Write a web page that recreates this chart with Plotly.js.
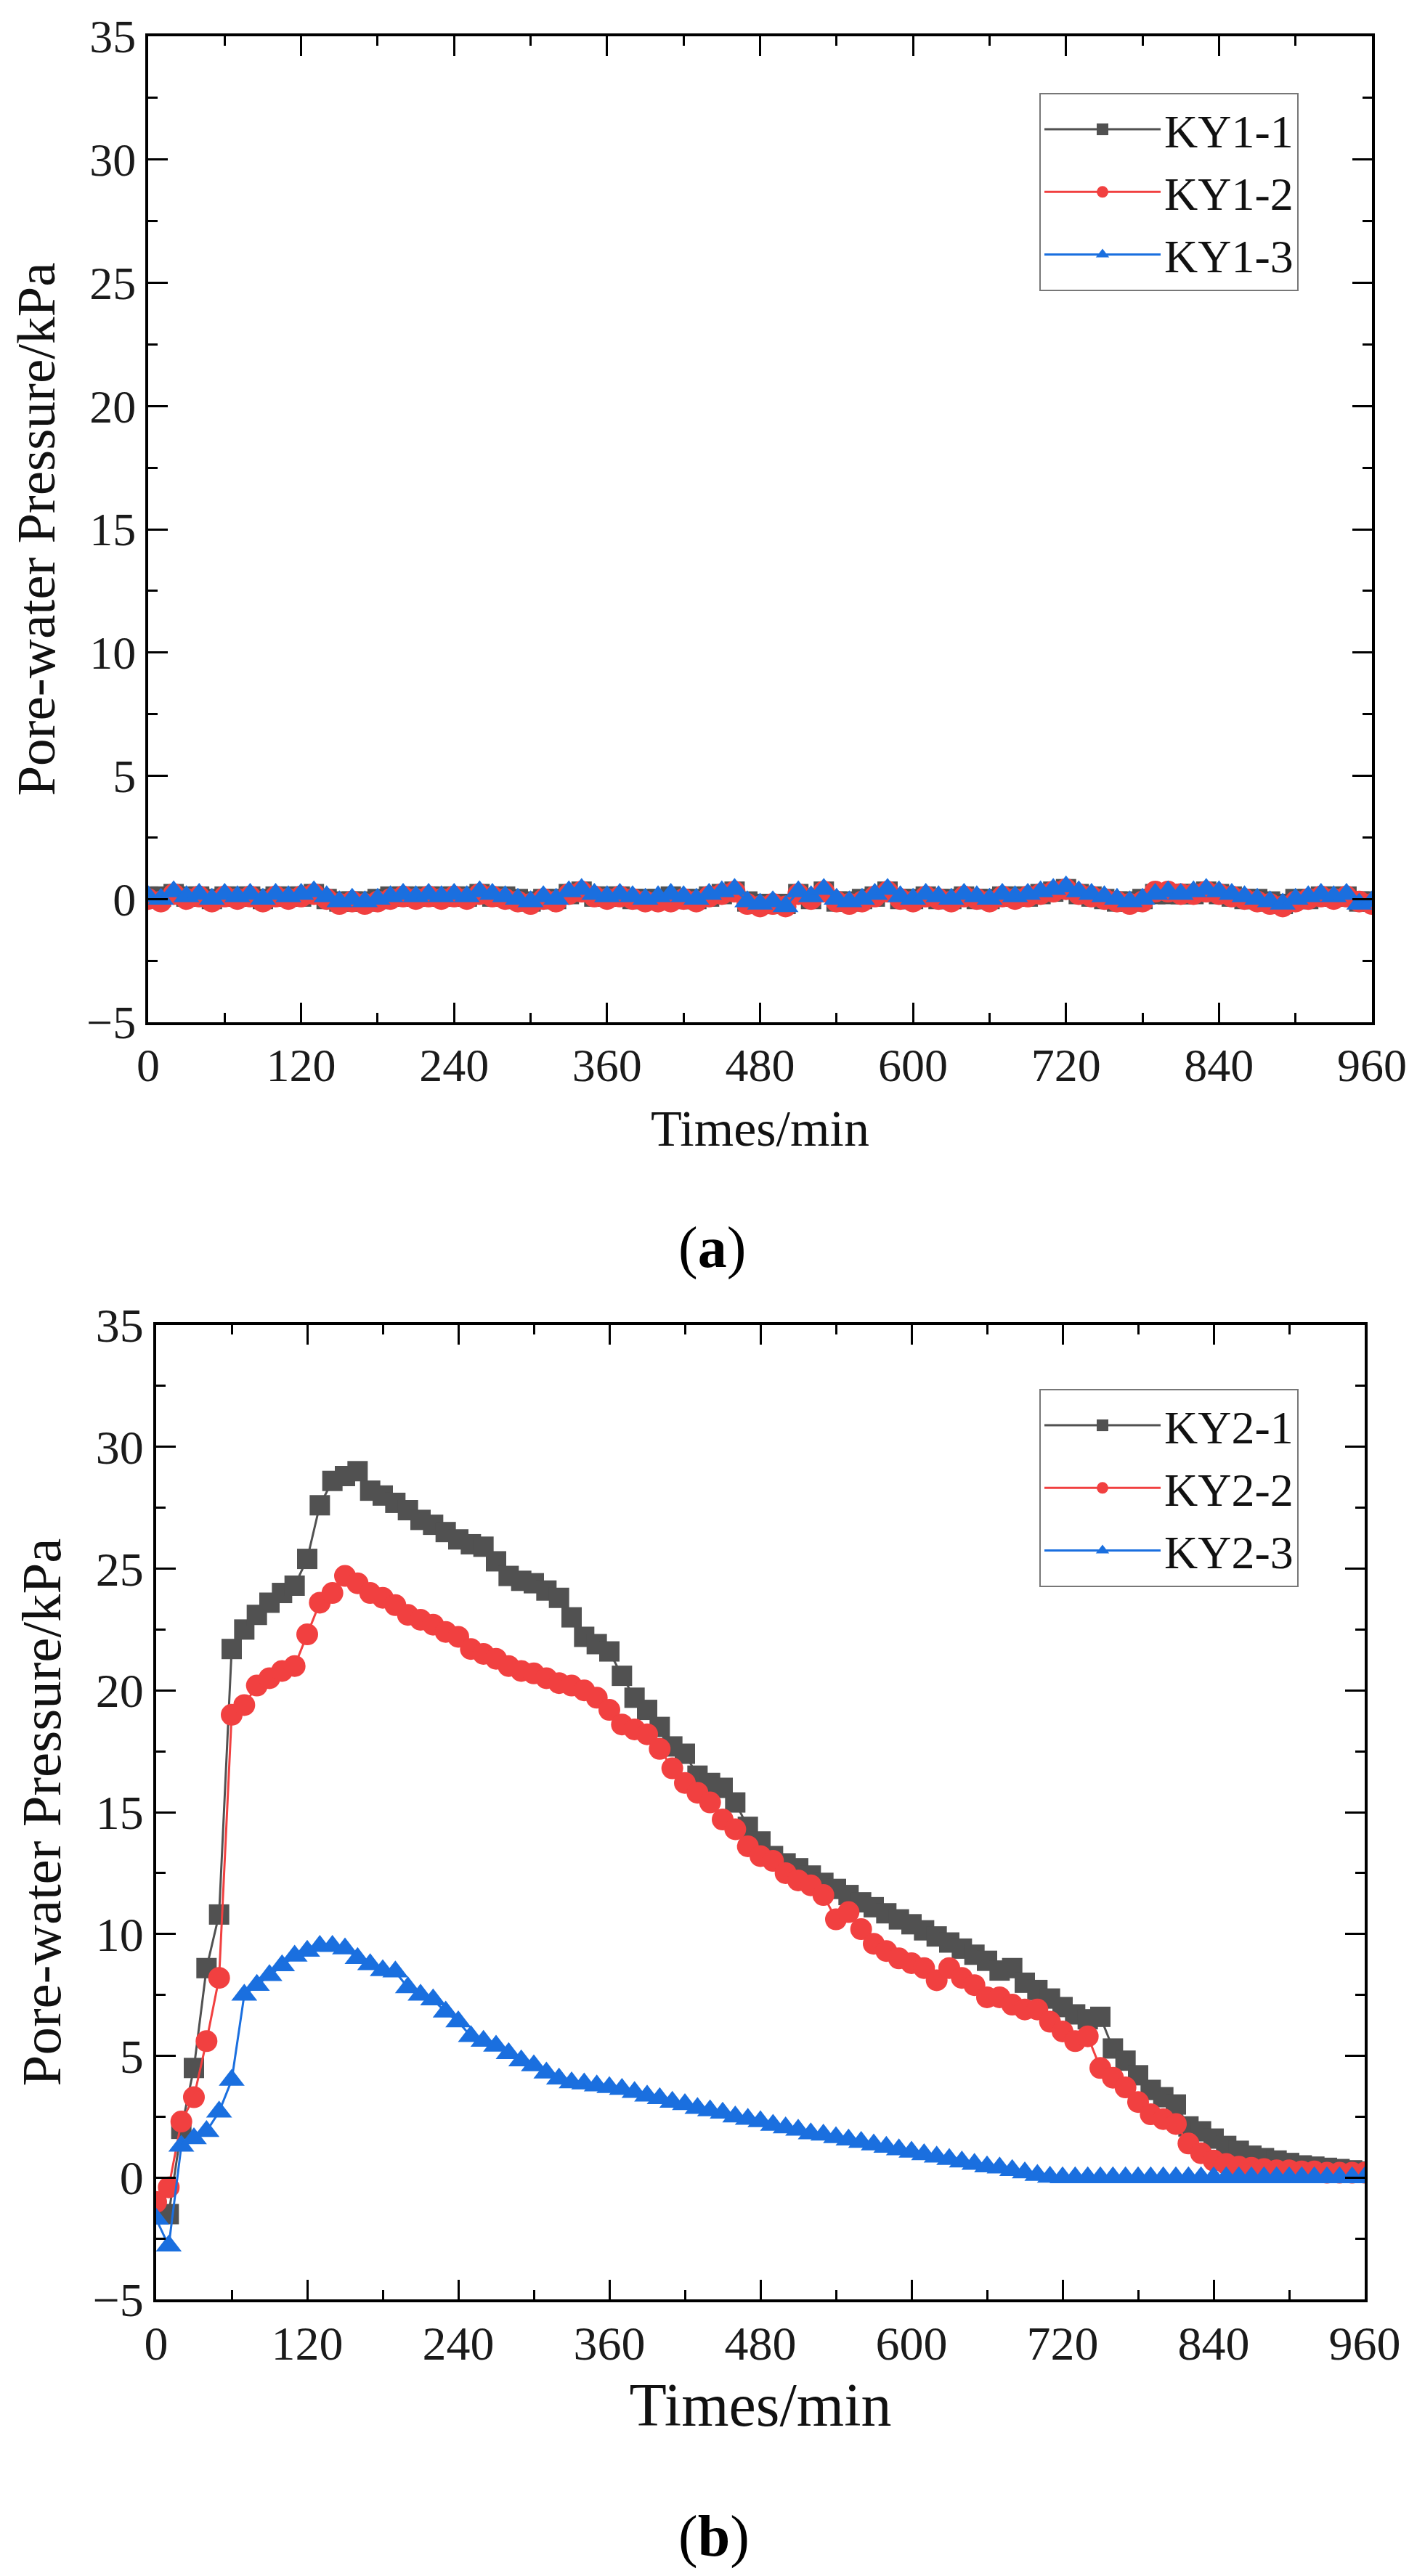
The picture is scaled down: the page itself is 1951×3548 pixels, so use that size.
<!DOCTYPE html>
<html>
<head>
<meta charset="utf-8">
<script src="https://cdn.plot.ly/plotly-3.0.1.min.js"></script>
<style>
  html, body { margin: 0; padding: 0; background: #fff; }
  #plots { width: 1951px; height: 3548px; }
</style>
</head>
<body>
<div id="plots"></div>
<script>
// Pore-water pressure records, two test groups (a) KY1 and (b) KY2
// sampled every 10 min, values read off the original figure

const timeMin = [
  0, 10, 20, 30, 40, 50, 60, 70, 80, 90,
  100, 110, 120, 130, 140, 150, 160, 170, 180, 190,
  200, 210, 220, 230, 240, 250, 260, 270, 280, 290,
  300, 310, 320, 330, 340, 350, 360, 370, 380, 390,
  400, 410, 420, 430, 440, 450, 460, 470, 480, 490,
  500, 510, 520, 530, 540, 550, 560, 570, 580, 590,
  600, 610, 620, 630, 640, 650, 660, 670, 680, 690,
  700, 710, 720, 730, 740, 750, 760, 770, 780, 790,
  800, 810, 820, 830, 840, 850, 860, 870, 880, 890,
  900, 910, 920, 930, 940, 950, 960
];

// --- (a) KY1 ---
const ky1_1 = [
  0.1, 0.1, 0.2, 0.1, 0.1, 0.0, 0.1, 0.1, 0.1, 0.0,
  0.1, 0.1, 0.1, 0.2, 0.0, -0.1, -0.1, -0.1, 0.0, 0.1,
  0.1, 0.1, 0.1, 0.1, 0.1, 0.1, 0.2, 0.1, 0.1, 0.0,
  -0.1, 0.0, 0.0, 0.2, 0.3, 0.1, 0.1, 0.1, 0.0, 0.0,
  0.0, 0.1, 0.0, 0.0, 0.1, 0.2, 0.3, -0.1, -0.2, -0.2,
  -0.2, 0.2, 0.0, 0.3, -0.1, -0.1, 0.0, 0.1, 0.3, 0.0,
  0.0, 0.1, 0.0, 0.0, 0.1, 0.0, 0.0, 0.1, 0.1, 0.1,
  0.2, 0.3, 0.4, 0.2, 0.1, 0.0, -0.1, -0.1, 0.0, 0.2,
  0.2, 0.2, 0.2, 0.3, 0.2, 0.1, 0.0, 0.0, -0.1, -0.2,
  0.0, 0.0, 0.1, 0.1, 0.1, -0.1, -0.1
];
const ky1_2 = [
  0.0, -0.1, 0.2, 0.0, 0.1, -0.1, 0.1, 0.0, 0.1, -0.1,
  0.1, 0.0, 0.1, 0.2, 0.0, -0.2, -0.1, -0.2, -0.1, 0.0,
  0.1, 0.0, 0.1, 0.0, 0.1, 0.0, 0.2, 0.1, 0.0, -0.1,
  -0.2, 0.0, -0.1, 0.2, 0.3, 0.1, 0.0, 0.1, 0.0, -0.1,
  -0.1, -0.1, 0.0, -0.1, 0.1, 0.2, 0.3, -0.2, -0.3, -0.2,
  -0.3, 0.2, 0.0, 0.3, -0.1, -0.2, -0.1, 0.1, 0.3, 0.0,
  -0.1, 0.1, 0.0, -0.1, 0.1, 0.0, -0.1, 0.1, 0.0, 0.1,
  0.2, 0.3, 0.4, 0.2, 0.1, 0.0, -0.1, -0.2, -0.1, 0.3,
  0.3, 0.2, 0.2, 0.3, 0.2, 0.1, 0.0, -0.1, -0.2, -0.3,
  -0.1, 0.0, 0.1, 0.0, 0.1, -0.1, -0.2
];
const ky1_3 = [
  0.1, 0.0, 0.3, 0.1, 0.2, 0.0, 0.2, 0.1, 0.2, 0.0,
  0.2, 0.1, 0.2, 0.3, 0.1, -0.1, 0.0, -0.1, 0.0, 0.1,
  0.2, 0.1, 0.2, 0.1, 0.2, 0.1, 0.3, 0.2, 0.1, 0.0,
  -0.1, 0.1, 0.0, 0.3, 0.4, 0.2, 0.1, 0.2, 0.1, 0.0,
  0.1, 0.2, 0.1, 0.0, 0.2, 0.3, 0.4, -0.1, -0.2, -0.1,
  -0.3, 0.3, 0.1, 0.4, 0.0, -0.1, 0.0, 0.2, 0.4, 0.1,
  0.0, 0.2, 0.1, 0.0, 0.2, 0.1, 0.0, 0.2, 0.1, 0.2,
  0.3, 0.4, 0.5, 0.3, 0.2, 0.1, 0.0, -0.1, 0.0, 0.2,
  0.3, 0.2, 0.3, 0.4, 0.3, 0.2, 0.1, 0.0, -0.1, -0.2,
  0.0, 0.1, 0.2, 0.1, 0.2, -0.2, -0.1
];

// --- (b) KY2 ---
const ky2_1 = [
  -1.0, -1.5, 2.0, 4.5, 8.6, 10.8, 21.7, 22.5, 23.1, 23.6,
  24.0, 24.3, 25.4, 27.6, 28.6, 28.8, 29.0, 28.2, 28.0, 27.7,
  27.4, 27.0, 26.8, 26.5, 26.2, 26.0, 25.9, 25.3, 24.7, 24.5,
  24.4, 24.1, 23.8, 23.0, 22.2, 21.9, 21.6, 20.6, 19.7, 19.2,
  18.5, 17.7, 17.4, 16.5, 16.2, 16.0, 15.4, 14.4, 13.8, 13.2,
  12.9, 12.7, 12.4, 12.1, 11.85, 11.6, 11.3, 11.1, 10.85, 10.6,
  10.4, 10.15, 9.9, 9.65, 9.4, 9.15, 8.9, 8.5, 8.6, 8.0,
  7.7, 7.35, 7.0, 6.7, 6.5, 6.6, 5.3, 4.8, 4.2, 3.6,
  3.3, 3.0, 2.1, 1.9, 1.6, 1.3, 1.1, 0.9, 0.8, 0.7,
  0.6, 0.5, 0.45, 0.4, 0.35, 0.3, 0.25
];
const ky2_2 = [
  -1.0, -0.4, 2.3, 3.3, 5.6, 8.2, 19.0, 19.4, 20.2, 20.5,
  20.8, 21.0, 22.3, 23.6, 24.0, 24.7, 24.4, 24.0, 23.8, 23.5,
  23.1, 22.9, 22.7, 22.4, 22.2, 21.7, 21.5, 21.3, 21.0, 20.8,
  20.7, 20.5, 20.3, 20.2, 20.0, 19.7, 19.2, 18.6, 18.4, 18.2,
  17.6, 16.8, 16.2, 15.8, 15.4, 14.7, 14.3, 13.6, 13.2, 13.0,
  12.5, 12.2, 12.0, 11.6, 10.6, 10.9, 10.2, 9.6, 9.3, 9.0,
  8.8, 8.6, 8.1, 8.6, 8.2, 7.9, 7.4, 7.4, 7.1, 6.9,
  6.9, 6.4, 6.0, 5.6, 5.8, 4.5, 4.1, 3.7, 3.1, 2.6,
  2.4, 2.2, 1.4, 1.0, 0.7, 0.56, 0.45, 0.4, 0.35, 0.3,
  0.3, 0.25, 0.25, 0.2, 0.2, 0.2, 0.2
];
const ky2_3 = [
  -1.7, -2.8, 1.3, 1.6, 1.9, 2.7, 4.0, 7.5, 7.9, 8.3,
  8.7, 9.1, 9.3, 9.5, 9.5, 9.4, 9.0, 8.75, 8.5, 8.45,
  7.8, 7.5, 7.3, 6.8, 6.4, 5.8, 5.6, 5.4, 5.1, 4.8,
  4.6, 4.3, 4.05, 3.9, 3.85, 3.77, 3.7, 3.63, 3.5, 3.35,
  3.25, 3.1, 3.0, 2.85, 2.75, 2.65, 2.5, 2.4, 2.3, 2.15,
  2.05, 1.95, 1.8, 1.75, 1.65, 1.55, 1.45, 1.35, 1.25, 1.15,
  1.05, 0.95, 0.85, 0.75, 0.65, 0.55, 0.45, 0.4, 0.3, 0.2,
  0.1, 0.02, 0.0, 0.0, 0.0, 0.0, 0.0, 0.0, 0.0, 0.0,
  0.0, 0.0, 0.0, 0.0, 0.0, 0.0, 0.0, 0.0, 0.0, 0.0,
  0.0, 0.0, 0.0, 0.0, 0.0, 0.0, 0.0
];

const seriesA = [
  { name: 'KY1-1', y: ky1_1 },
  { name: 'KY1-2', y: ky1_2 },
  { name: 'KY1-3', y: ky1_3 }
];
const seriesB = [
  { name: 'KY2-1', y: ky2_1 },
  { name: 'KY2-2', y: ky2_2 },
  { name: 'KY2-3', y: ky2_3 }
];

// Origin-like palette + symbols
const colors = ['#515151', '#F14040', '#1A6FDF'];
const symbols = ['square', 'circle', 'triangle-up'];
const markerSizes = [28, 30, 31];

const FONT = 'Liberation Serif, Times New Roman, serif';

function makeTraces(series, xa, ya, legendId) {
  return series.map((s, i) => ({
    x: timeMin,
    y: s.y,
    type: 'scatter',
    mode: 'lines+markers',
    name: s.name,
    line: { color: colors[i], width: 3 },
    marker: { color: colors[i], symbol: symbols[i], size: markerSizes[i] },
    xaxis: xa,
    yaxis: ya,
    legend: legendId
  }));
}

// shared axis look: boxed frame, inward ticks on all four sides
function xAxisStyle(domain, anchor, fontSize) {
  return {
    domain: domain, anchor: anchor,
    range: [0, 960], tick0: 0, dtick: 120,
    showline: true, linecolor: '#000', linewidth: 4, mirror: 'allticks',
    ticks: 'inside', ticklen: 27, tickwidth: 3, tickcolor: '#000',
    minor: { dtick: 60, ticks: 'inside', ticklen: 13, tickwidth: 3, tickcolor: '#000' },
    showgrid: false, zeroline: false, automargin: false,
    tickfont: { family: FONT, size: fontSize, color: '#1a1a1a' }
  };
}
function yAxisStyle(domain, anchor, fontSize) {
  return {
    domain: domain, anchor: anchor,
    range: [-5, 35], tick0: 0, dtick: 5,
    showline: true, linecolor: '#000', linewidth: 4, mirror: 'allticks',
    ticks: 'inside', ticklen: 27, tickwidth: 3, tickcolor: '#000',
    minor: { dtick: 2.5, ticks: 'inside', ticklen: 13, tickwidth: 3, tickcolor: '#000' },
    showgrid: false, zeroline: false, automargin: false,
    tickfont: { family: FONT, size: fontSize, color: '#1a1a1a' }
  };
}

const W = 1951, H = 3548;
// pixel boxes of the two panels, measured on the reference
const boxA = { l: 204, r: 1889, t: 50, b: 1408 };
const boxB = { l: 215, r: 1879, t: 1825, b: 3167 };
const xDom = b => [b.l / W, b.r / W];
const yDom = b => [1 - b.b / H, 1 - b.t / H];

const xaA = xAxisStyle(xDom(boxA), 'y', 64);
xaA.title = { text: 'Times/min', font: { family: FONT, size: 70, color: '#111' }, standoff: 28 };
const yaA = yAxisStyle(yDom(boxA), 'x', 64);
yaA.title = { text: 'Pore-water Pressure/kPa', font: { family: FONT, size: 75, color: '#111' }, standoff: 20 };

const xaB = xAxisStyle(xDom(boxB), 'y2', 66);
xaB.title = { text: 'Times/min', font: { family: FONT, size: 84, color: '#111' }, standoff: 20 };
const yaB = yAxisStyle(yDom(boxB), 'x2', 66);
yaB.title = { text: 'Pore-water Pressure/kPa', font: { family: FONT, size: 77, color: '#111' }, standoff: 20 };

function legendStyle(topPx) {
  return {
    x: 1431 / W, y: 1 - topPx / H, xanchor: 'left', yanchor: 'top',
    bgcolor: '#fff', bordercolor: '#777', borderwidth: 2,
    font: { family: FONT, size: 64, color: '#111' },
    itemwidth: 160, tracegroupgap: 0
  };
}

const layout = {
  width: W, height: H,
  margin: { l: 0, r: 0, t: 0, b: 0 },
  paper_bgcolor: '#fff', plot_bgcolor: '#fff',
  showlegend: true,
  xaxis: xaA, yaxis: yaA,
  xaxis2: xaB, yaxis2: yaB,
  legend: legendStyle(128),
  legend2: legendStyle(1913),
  annotations: [
    {
      text: '(<b>a</b>)', xref: 'paper', yref: 'paper',
      x: 980 / W, y: 1 - 1718 / H, xanchor: 'center', yanchor: 'middle',
      showarrow: false, font: { family: FONT, size: 80, color: '#000' }
    },
    {
      text: '(<b>b</b>)', xref: 'paper', yref: 'paper',
      x: 983 / W, y: 1 - 3493 / H, xanchor: 'center', yanchor: 'middle',
      showarrow: false, font: { family: FONT, size: 80, color: '#000' }
    }
  ]
};

const traces = [
  ...makeTraces(seriesA, 'x', 'y', 'legend'),
  ...makeTraces(seriesB, 'x2', 'y2', 'legend2')
];

Plotly.newPlot('plots', traces, layout, { staticPlot: true });
</script>
</body>
</html>
